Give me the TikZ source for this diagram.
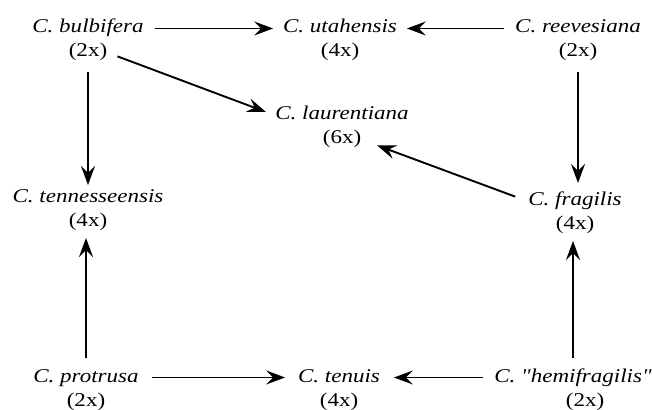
\documentclass[tikz,border=0pt]{standalone}
\usepackage{fontspec}
\setmainfont{Liberation Serif}[FakeStretch=1.18,Ligatures=TeXOff]
\usepackage{tikz}
\usetikzlibrary{arrows.meta,positioning}
\tikzset{
  sp/.style={inner sep=0pt,outer sep=0pt,text height=13pt,text depth=4pt,font=\fontsize{19.5}{24}\selectfont\itshape},
  plo/.style={inner sep=0pt,outer sep=0pt,text height=13pt,text depth=4pt,font=\fontsize{19.5}{24}\selectfont},
  arr/.style={-{Stealth[length=19pt,width=14pt,inset=7pt]},line width=1.9pt,shorten <=11pt,shorten >=10pt},
}

\begin{document}
\begin{tikzpicture}[x=1pt,y=1pt]
 \useasboundingbox (0,0) rectangle (652,409);
 % species, first line italic, ploidy below
 \node[sp] (bul) at (88,380.5){C. bulbifera}; \node[plo,below=7pt of bul] (bulx){(2x)};
 \node[sp] (uta) at (340,380.5){C. utahensis}; \node[plo,below=7pt of uta] (utax){(4x)};
 \node[sp] (ree) at (578,380.5){C. reevesiana}; \node[plo,below=7pt of ree] (reex){(2x)};
 \node[sp] (lau) at (342,293.5){C. laurentiana}; \node[plo,below=7pt of lau] (laux){(6x)};
 \node[sp] (ten) at (88,210.5){C. tennesseensis}; \node[plo,below=7pt of ten] (tenx){(4x)};
 \node[sp] (fra) at (575,207.5){C. fragilis}; \node[plo,below=7pt of fra] (frax){(4x)};
 \node[sp] (pro) at (86,31.5){C. protrusa}; \node[plo,below=7pt of pro] (prox){(2x)};
 \node[sp] (tnu) at (339,31.5){C. tenuis}; \node[plo,below=7pt of tnu] (tnux){(4x)};
 \node[sp] (hem) at (573,31.5){C. "hemifragilis"}; \node[plo,below=7pt of hem,xshift=12pt] (hemx){(2x)};
 % crosses
 \draw[arr] (bul) -- (uta); \draw[arr] (ree) -- (uta);
 \draw[arr] (bulx.east) -- (lau.west);
 \draw[arr,shorten <=14pt,shorten >=17pt] (fra.west) -- (laux.east);
 \draw[arr,shorten >=5pt] (bulx) -- (ten);
 \draw[arr] (reex.south) -- (reex.south |- fra.north);
 \draw[arr,shorten >=7pt] (pro.north) -- (pro.north |- tenx.south);
 \draw[arr,shorten >=7pt] (hem.north) -- (hem.north |- frax.south);
 \draw[arr,shorten <=13pt,shorten >=13pt] (pro) -- (tnu); \draw[arr,shorten >=14pt] (hem) -- (tnu);
\end{tikzpicture}
\end{document}
